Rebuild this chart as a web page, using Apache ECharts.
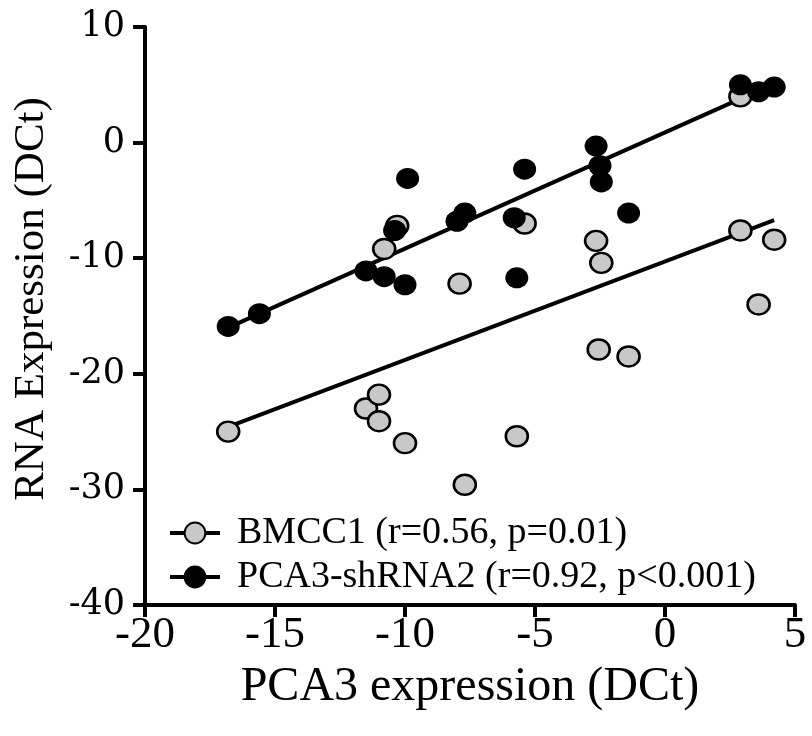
<!DOCTYPE html>
<html>
<head>
<meta charset="utf-8">
<script src="https://cdn.jsdelivr.net/npm/echarts@6/dist/echarts.min.js"></script>
<style>
  html, body { margin: 0; padding: 0; background: #fff; }
  #chart { width: 812px; height: 736px; }
</style>
</head>
<body>
<div id="chart"></div>
<script>
// values
const bmcc1Points = [
  [-16.8, -25.0], [-11.5, -23.0], [-11.0, -21.8], [-11.0, -24.1],
  [-10.8, -9.2], [-10.3, -7.2], [-10.0, -26.0], [-7.9, -12.2],
  [-7.7, -29.6], [-5.7, -25.4], [-5.4, -7.0], [-2.65, -8.5],
  [-2.45, -10.4], [-2.55, -17.9], [-1.4, -18.5], [2.9, -7.6],
  [2.9, 4.0], [3.6, -14.0], [4.2, -8.4]
];
const shrna2Points = [
  [-16.8, -15.9], [-15.6, -14.8], [-11.5, -11.1], [-10.8, -11.6],
  [-10.0, -12.3], [-10.4, -7.6], [-9.9, -3.1], [-8.0, -6.8],
  [-7.7, -6.1], [-5.8, -6.5], [-5.7, -11.7], [-5.4, -2.3],
  [-2.65, -0.3], [-2.5, -2.0], [-2.45, -3.4], [-1.4, -6.1],
  [2.9, 5.0], [3.6, 4.4], [4.2, 4.8]
];
const fitX = [-16.8, 4.2];
const bmcc1Fit = [-24.6, -6.7];
const shrna2Fit = [-16.0, 5.1];

const bmcc1Name = 'BMCC1 (r=0.56, p=0.01)';
const shrna2Name = 'PCA3-shRNA2 (r=0.92, p<0.001)';
const grey = '#c8c8c8';

const serif = 'Liberation Serif';

function fitLine(ys) {
  return fitX.map((x, i) => [x, ys[i]]);
}

const chart = echarts.init(document.getElementById('chart'));

const axisCommon = {
  type: 'value',
  splitLine: { show: false },
  axisLine: { show: true, onZero: false, lineStyle: { color: '#000', width: 4 } },
  axisTick: { show: true, inside: false, length: 12, lineStyle: { color: '#000', width: 4 } },
  nameLocation: 'middle',
};

chart.setOption({
  animation: false,
  backgroundColor: '#fff',
  grid: { left: 145, right: 17, top: 27, bottom: 131 },
  legend: {
    orient: 'vertical',
    left: 163,
    top: 509,
    itemWidth: 50,
    itemHeight: 26,
    itemGap: 6,
    data: [bmcc1Name, shrna2Name],
    lineStyle: { width: 4 },
    textStyle: { fontFamily: serif, fontSize: 38, color: '#000', padding: [0, 0, 0, 12] },
  },
  xAxis: Object.assign({}, axisCommon, {
    min: -20, max: 5, interval: 5,
    name: 'PCA3 expression (DCt)',
    nameGap: 46,
    nameTextStyle: { fontFamily: serif, fontSize: 48, color: '#000' },
    axisLabel: { fontFamily: serif, fontSize: 45, color: '#000', margin: 8 },
  }),
  yAxis: Object.assign({}, axisCommon, {
    min: -40, max: 10, interval: 10,
    name: 'RNA Expression (DCt)',
    nameGap: 92,
    nameTextStyle: { fontFamily: serif, fontSize: 43, color: '#000', padding: [0, 0, 0, 34] },
    axisLabel: { fontFamily: 'DejaVu Serif', fontSize: 35, color: '#000', margin: 20 },
  }),
  series: [
    {
      name: bmcc1Name,
      type: 'line',
      data: fitLine(bmcc1Fit),
      showSymbol: false,
      symbol: 'circle',
      symbolSize: 22,
      itemStyle: { color: grey, borderColor: '#000', borderWidth: 2.5 },
      lineStyle: { color: '#000', width: 4 },
      z: 1,
    },
    {
      name: shrna2Name,
      type: 'line',
      data: fitLine(shrna2Fit),
      showSymbol: false,
      symbol: 'circle',
      symbolSize: 22,
      itemStyle: { color: '#000', borderColor: '#000', borderWidth: 2.5 },
      lineStyle: { color: '#000', width: 4 },
      z: 1,
    },
    {
      name: bmcc1Name,
      type: 'scatter',
      data: bmcc1Points,
      symbol: 'circle',
      symbolSize: [22, 20],
      itemStyle: { color: grey, borderColor: '#000', borderWidth: 2.5, opacity: 1 },
      z: 2,
    },
    {
      name: shrna2Name,
      type: 'scatter',
      data: shrna2Points,
      symbol: 'circle',
      symbolSize: [23, 21],
      itemStyle: { color: '#000', opacity: 1 },
      z: 3,
    },
  ],
});
</script>
</body>
</html>
